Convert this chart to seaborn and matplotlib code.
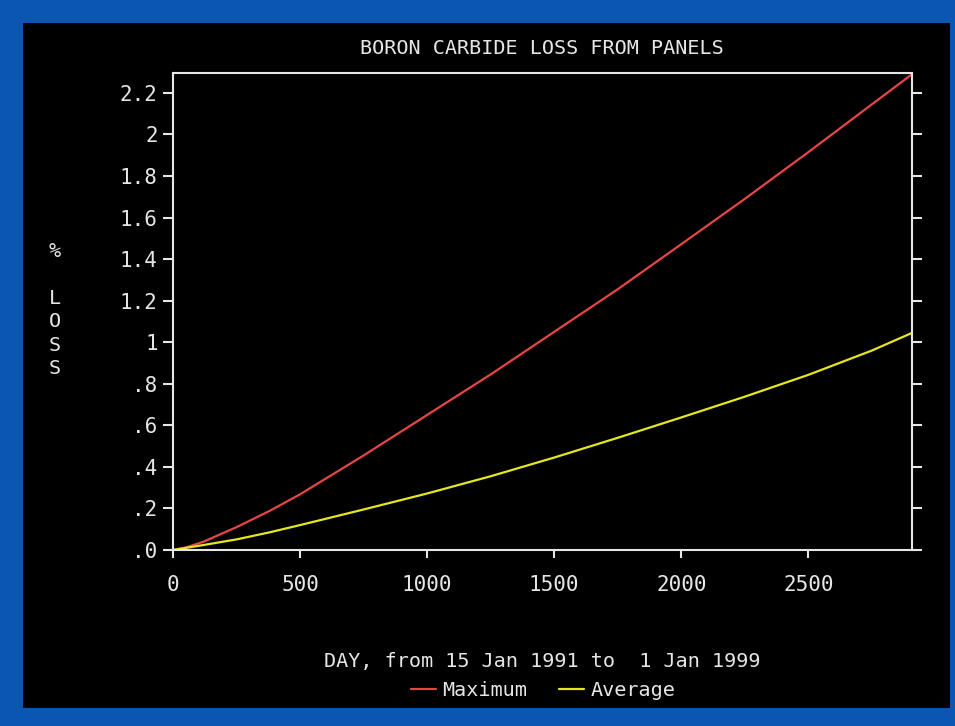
import matplotlib
matplotlib.use("Agg")
import matplotlib.pyplot as plt
import seaborn as sns
import pandas as pd
from matplotlib.patches import Rectangle
from matplotlib.lines import Line2D

# ---- data ----
days = [0, 50, 120, 250, 380, 500, 750, 1000, 1250, 1500, 1750, 2000, 2250, 2500, 2750, 2908]
maximum = [0.0, 0.012, 0.04, 0.11, 0.188, 0.268, 0.455, 0.65, 0.845, 1.05, 1.255, 1.472, 1.69, 1.915, 2.145, 2.29]
average = [0.0, 0.01, 0.024, 0.051, 0.085, 0.12, 0.195, 0.272, 0.355, 0.445, 0.54, 0.638, 0.738, 0.843, 0.96, 1.045]
series_names = ["Maximum", "Average"]
y_ticks = [0.0, 0.2, 0.4, 0.6, 0.8, 1.0, 1.2, 1.4, 1.6, 1.8, 2.0, 2.2]
y_tick_labels = [".0", ".2", ".4", ".6", ".8", "1", "1.2", "1.4", "1.6", "1.8", "2", "2.2"]
x_ticks = [0, 500, 1000, 1500, 2000, 2500]
title = "BORON CARBIDE LOSS FROM PANELS"
x_label = "DAY, from 15 Jan 1991 to  1 Jan 1999"
y_label = "%\n\nL\nO\nS\nS"

df = pd.DataFrame({
    "day": days * 2,
    "loss": maximum + average,
    "series": [series_names[0]] * len(days) + [series_names[1]] * len(days),
})

sns.set_theme(style="dark")
plt.rcParams["font.family"] = ["DejaVu Sans Mono", "DejaVu Sans"]

FG = "#e6e6e6"
BLUE = "#0a56b0"
RED = "#e84545"
YEL = "#e6e61e"

fig = plt.figure(figsize=(9.55, 7.26), dpi=100, facecolor=BLUE)
fig.patches.append(Rectangle((23 / 955, 1 - 708 / 726), (950 - 23) / 955, (708 - 23) / 726,
                             transform=fig.transFigure, facecolor="black", edgecolor="none", zorder=-5))

ax = fig.add_axes([173 / 955, 1 - 550 / 726, (912 - 173) / 955, (550 - 73) / 726])
ax.set_zorder(2)
ax.set_facecolor("black")

sns.lineplot(data=df, x="day", y="loss", hue="series", palette={"Maximum": RED, "Average": YEL},
             linewidth=1.6, ax=ax, legend=False)

ax.set_xlim(0, 2908)
ax.set_ylim(0, 2.296)
ax.set_xticks(x_ticks)
ax.set_xticklabels([str(t) for t in x_ticks])
ax.set_yticks(y_ticks)
ax.set_yticklabels(y_tick_labels)
ax.grid(False)

for s in ax.spines.values():
    s.set_visible(True)
    s.set_color(FG)
    s.set_linewidth(1.5)

ax.tick_params(axis="y", which="both", left=True, right=True, labelleft=True, labelright=False,
               direction="out", length=7, width=1.5, color=FG, labelcolor=FG, labelsize=15, pad=4)
ax.tick_params(axis="x", bottom=True, top=False, direction="out", length=6, width=1.5,
               color=FG, labelcolor=FG, labelsize=15, pad=12)

ax.set_xlabel("")
ax.set_ylabel("")

fig.text(542 / 955, 1 - 48 / 726, title, color=FG, fontsize=14.5, ha="center", va="center")
fig.text(542 / 955, 1 - 661 / 726, x_label, color=FG, fontsize=14.5, ha="center", va="center")
fig.text(55 / 955, 1 - 310 / 726, y_label, color=FG, fontsize=14.5, ha="center", va="center",
         linespacing=1.3)

handles = [Line2D([], [], color=RED, linewidth=1.6), Line2D([], [], color=YEL, linewidth=1.6)]
leg = fig.legend(handles, series_names, loc="center", bbox_to_anchor=(543 / 955, 1 - 691 / 726),
                 ncol=2, frameon=False, fontsize=14.5, handlelength=1.25, handletextpad=0.3,
                 columnspacing=1.6, borderpad=0, borderaxespad=0)
for t in leg.get_texts():
    t.set_color(FG)

fig.savefig("out.png", dpi=100, facecolor=BLUE)
